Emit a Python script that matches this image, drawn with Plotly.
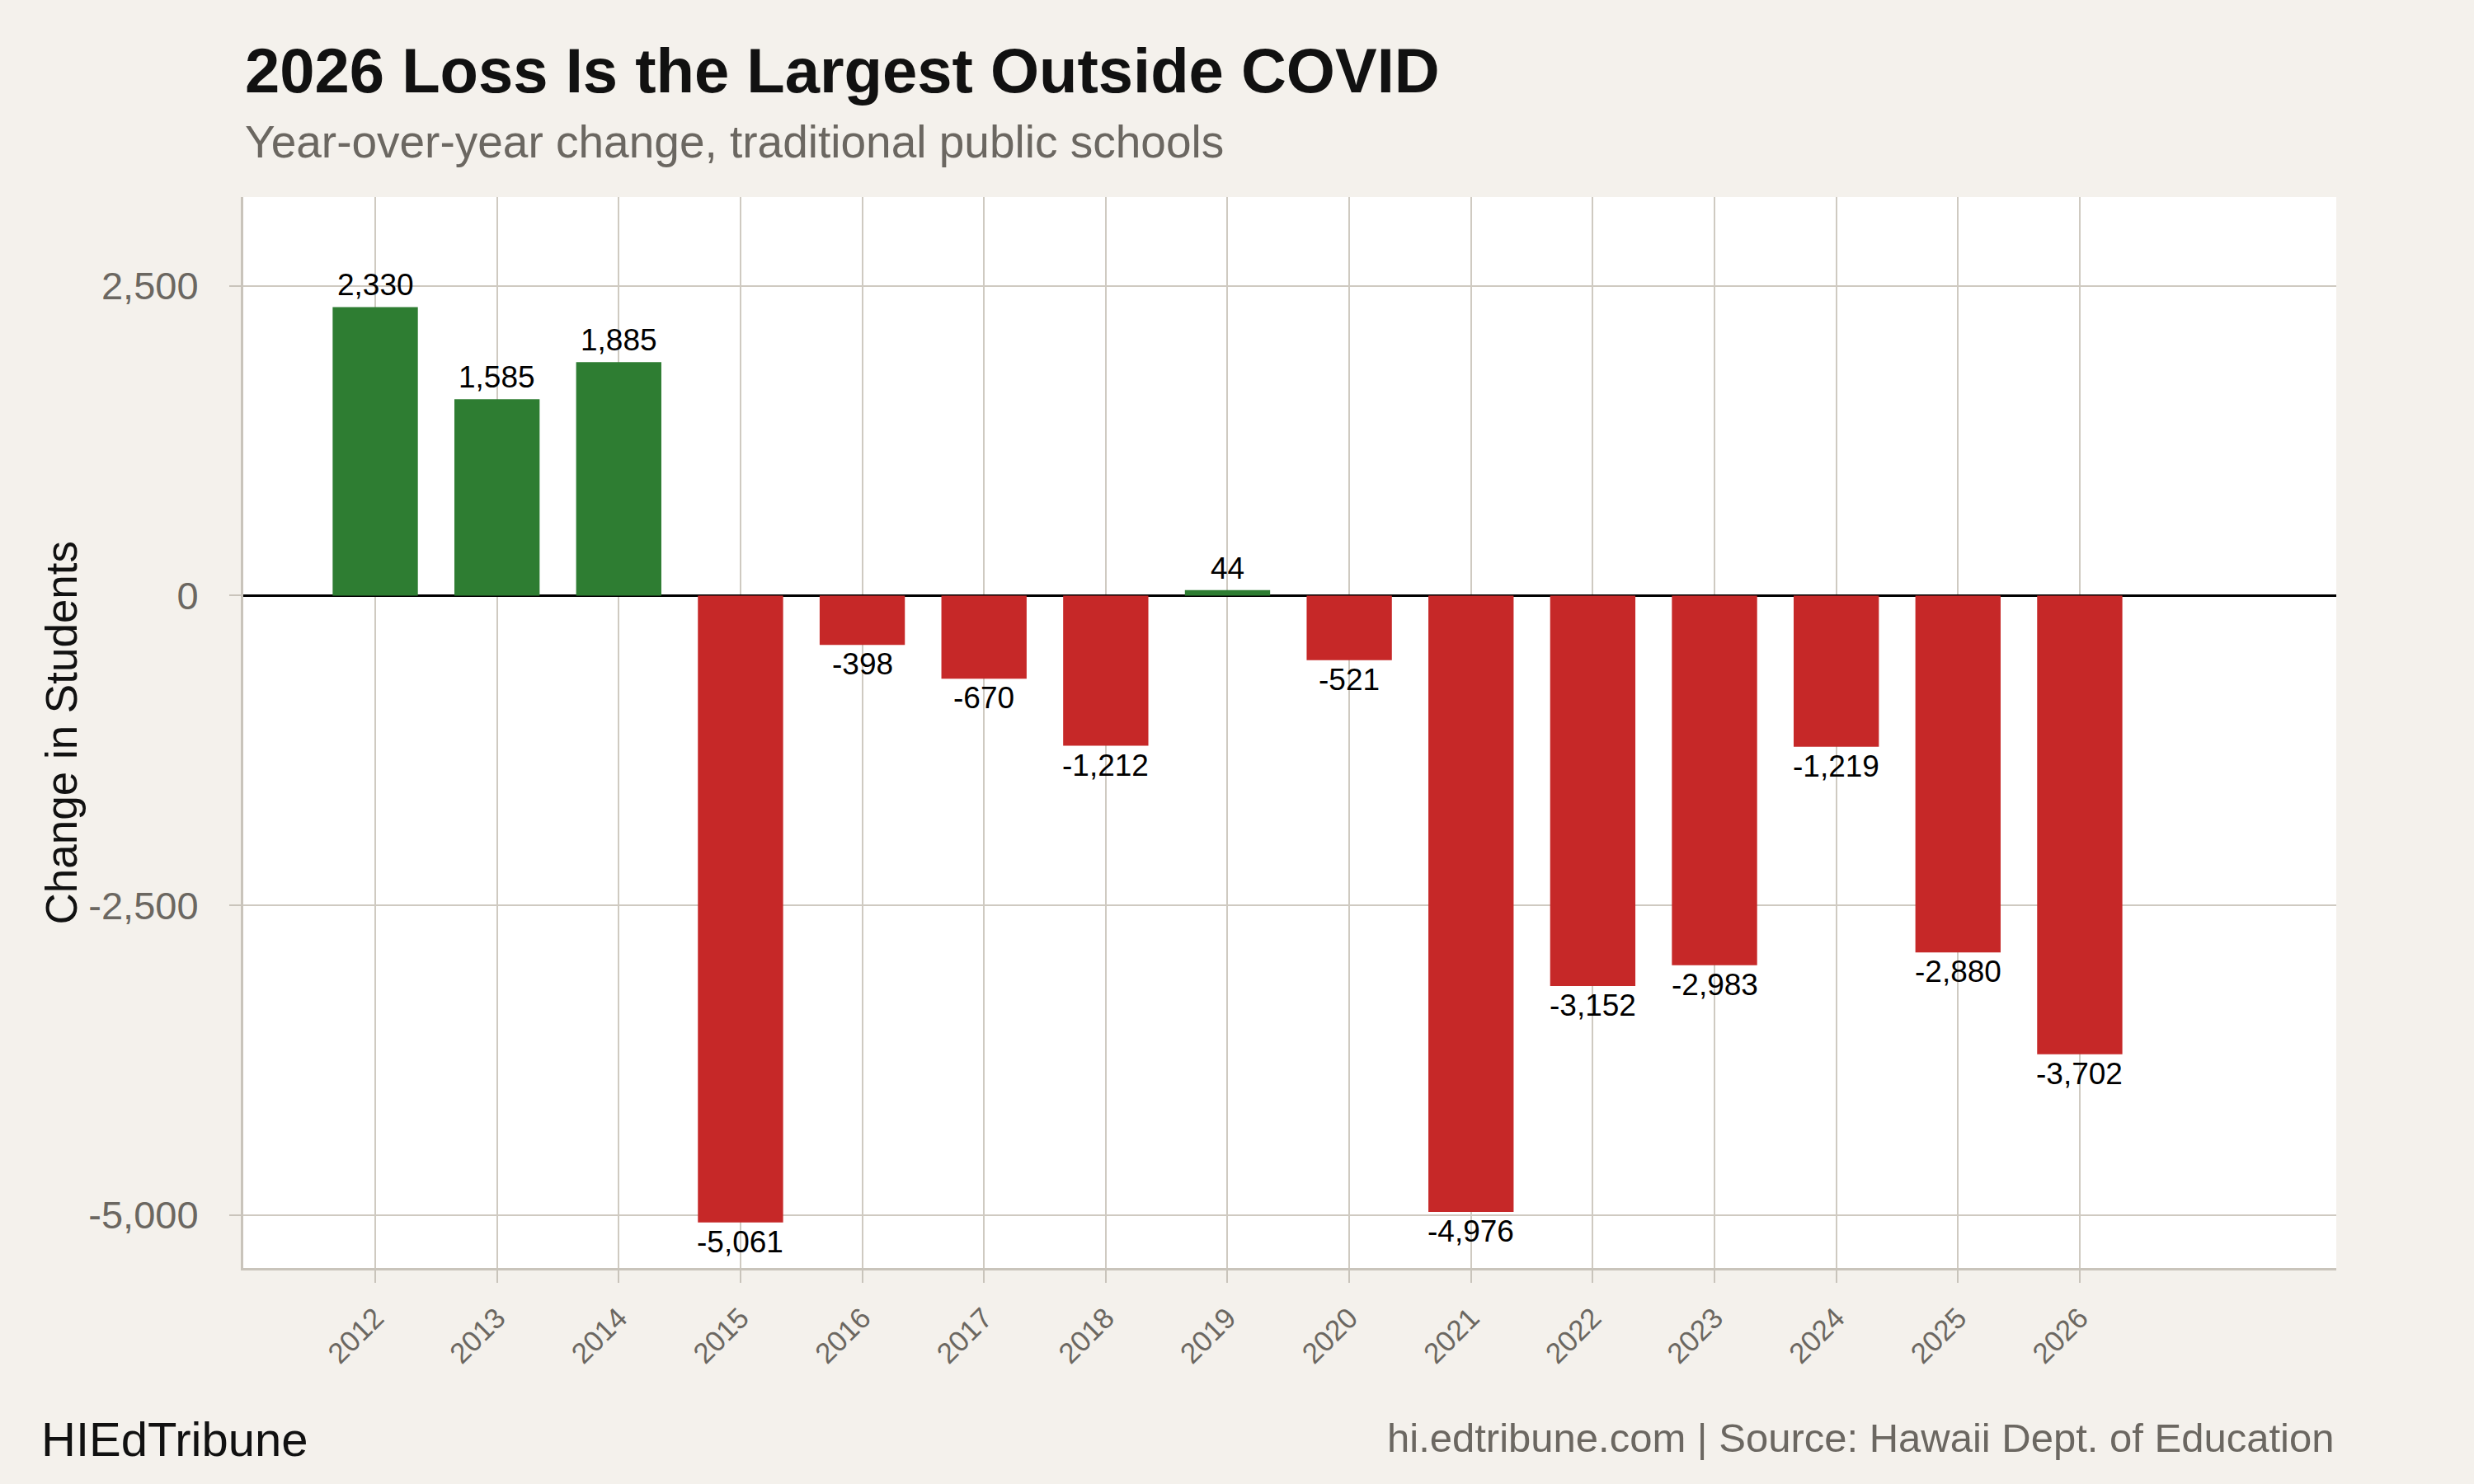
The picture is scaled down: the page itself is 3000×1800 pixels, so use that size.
import plotly.graph_objects as go

years = [2012, 2013, 2014, 2015, 2016, 2017, 2018, 2019, 2020, 2021, 2022, 2023, 2024, 2025, 2026]
changes = [2330, 1585, 1885, -5061, -398, -670, -1212, 44, -521, -4976, -3152, -2983, -1219, -2880, -3702]
y_ticks = [-5000, -2500, 0, 2500]
y_tick_labels = ["-5,000", "-2,500", "0", "2,500"]

title_text = "2026 Loss Is the Largest Outside COVID"
subtitle_text = "Year-over-year change, traditional public schools"
y_title = "Change in Students"
brand_text = "HIEdTribune"
source_text = "hi.edtribune.com | Source: Hawaii Dept. of Education"

GREEN = "#2E7D32"
RED = "#C62828"
BG = "#F4F1EC"
GRID = "#CFCAC1"
AXIS = "#C9C4BB"
GRAY_TEXT = "#6B6761"
FONT = "Liberation Sans, Arial, Helvetica, sans-serif"

colors = [GREEN if v >= 0 else RED for v in changes]

fig = go.Figure()
fig.add_trace(go.Bar(
    x=years, y=changes, width=0.7,
    marker=dict(color=colors, line=dict(width=0)),
    hoverinfo="x+y", showlegend=False,
))

annotations = []
for yr, v in zip(years, changes):
    annotations.append(dict(
        x=yr, y=v, xref="x", yref="y",
        text=f"{v:,}",
        showarrow=False,
        font=dict(family=FONT, size=37, color="#000000"),
        yanchor="bottom" if v >= 0 else "top",
        yshift=4 if v >= 0 else -1,
        xanchor="center",
    ))

L, R, T, B = 295, 167, 239, 262
plot_h = 1800 - T - B
plot_w = 3000 - L - R

def py(pix_y):
    return (1800 - B - pix_y) / plot_h

def px(pix_x):
    return (pix_x - L) / plot_w

annotations += [
    dict(text=f"<b>{title_text}</b>", x=0, xref="paper", xanchor="left",
         y=py(85), yref="paper", yanchor="middle", showarrow=False,
         font=dict(family=FONT, size=76, color="#111111")),
    dict(text=subtitle_text, x=0, xref="paper", xanchor="left",
         y=py(172), yref="paper", yanchor="middle", showarrow=False,
         font=dict(family=FONT, size=55, color=GRAY_TEXT)),
    dict(text=y_title, x=px(74), xref="paper", xanchor="center",
         y=0.5, yref="paper", yanchor="middle", textangle=-90, showarrow=False,
         font=dict(family=FONT, size=53, color="#111111")),
    dict(text=brand_text, x=px(48), xref="paper", xanchor="left",
         y=py(1745), yref="paper", yanchor="middle", showarrow=False,
         font=dict(family=FONT, size=58, color="#111111")),
    dict(text=source_text, x=1, xref="paper", xanchor="right",
         y=py(1744), yref="paper", yanchor="middle", showarrow=False,
         font=dict(family=FONT, size=49, color=GRAY_TEXT)),
]

fig.update_layout(
    width=3000, height=1800,
    margin=dict(l=L, r=R, t=T, b=B, pad=0),
    paper_bgcolor=BG, plot_bgcolor="#FFFFFF",
    font=dict(family=FONT),
    bargap=0.3,
    annotations=annotations,
)

fig.update_xaxes(
    range=[2010.916, 2028.107],
    tickmode="array", tickvals=years, ticktext=[str(y) for y in years],
    tickangle=-45,
    tickfont=dict(family=FONT, size=35, color=GRAY_TEXT),
    ticks="outside", ticklen=15, tickwidth=2, tickcolor=AXIS,
    showgrid=True, gridcolor=GRID, gridwidth=2,
    showline=True, linecolor=AXIS, linewidth=3,
    zeroline=False,
    ticklabelstandoff=8,
)
fig.update_yaxes(
    range=[-5428, 3218],
    tickmode="array", tickvals=y_ticks, ticktext=y_tick_labels,
    tickfont=dict(family=FONT, size=47, color=GRAY_TEXT),
    ticks="outside", ticklen=14, tickwidth=2, tickcolor=AXIS,
    showgrid=True, gridcolor=GRID, gridwidth=2,
    showline=True, linecolor=AXIS, linewidth=3,
    zeroline=True, zerolinecolor="#000000", zerolinewidth=3,
    ticklabelstandoff=28,
)

fig.write_html("out.html")
